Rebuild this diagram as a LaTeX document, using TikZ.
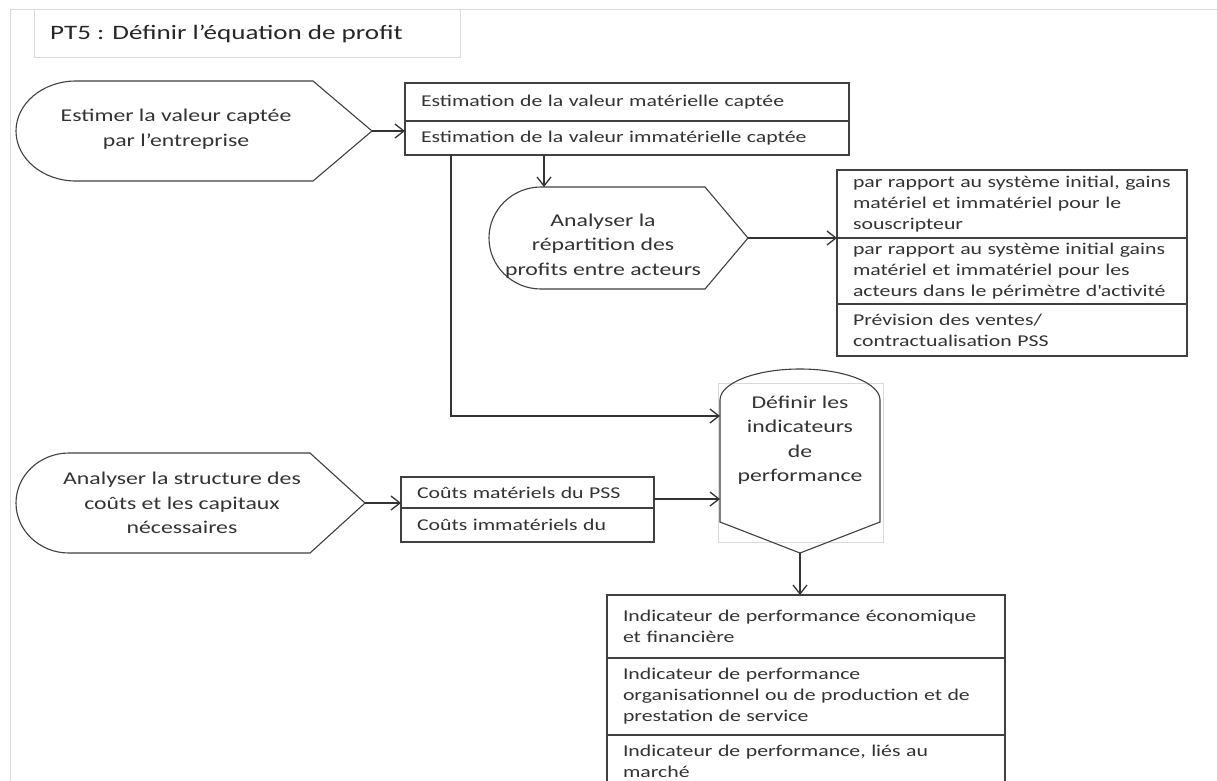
\documentclass[tikz,border=0pt]{standalone}
\usepackage{fontspec}
\setmainfont{Carlito}[FakeStretch=1.32]
\usetikzlibrary{arrows.meta}

\tikzset{
  ligne/.style={draw=black!75, line width=1.1pt},
  fleche/.style={draw=black!80, line width=1.3pt, -{Straight Barb[length=9pt,width=14pt]}},
  cadre/.style={draw=black!15, line width=1pt},
  boite/.style={ligne, rectangle, anchor=north west, outer sep=0pt, inner xsep=16pt, inner ysep=0pt,
    align=left, text=black!80, font=\fontsize{16.5}{21}\selectfont},
  forme/.style={align=center, text=black!80, font=\fontsize{18}{24.5}\selectfont},
}

\begin{document}
\begin{tikzpicture}[x=1pt,y=-1pt]
    \useasboundingbox (0,0) rectangle (1217,780);
    \fill[white] (0,0) rectangle (1217,780);
    \clip (0,0) rectangle (1217,780);

    % Cadre de page et titre
    \draw[cadre] (10,790) -- (10,9) -- (1220,9);
    \draw[cadre] (34,9) -- (34,57) -- (460,57) -- (460,9);
    \node[anchor=base west, inner sep=0pt, text=black!85, font=\fontsize{20.5}{24}\selectfont] (titre) at (50,39) {PT5 : Définir l’équation de profit};

    % Formes (activites)
    \draw[ligne] (76,81) -- (313,81) -- (372,131) -- (313,181) -- (76,181) arc[start angle=270, end angle=90, x radius=60pt, y radius=50pt] -- cycle;
    \draw[ligne] (541,187) -- (705,187) -- (748,238) -- (705,289) -- (541,289) arc[start angle=270, end angle=90, x radius=52pt, y radius=51pt] -- cycle;
    \draw[ligne] (69,453) -- (310,453) -- (365,503) -- (310,553) -- (69,553) arc[start angle=270, end angle=90, x radius=53pt, y radius=50pt] -- cycle;
    \draw[cadre] (718,383) rectangle (883,542);
    \draw[ligne] (720,522) -- (720,400) arc[start angle=180, end angle=0, x radius=80pt, y radius=31pt] -- (880,522) -- (800,553) -- cycle;

    \node[forme] (estimer) at (176,129) {Estimer la valeur captée\\par l’entreprise};
    \node[forme] (repartition) at (603,246) {Analyser la\\répartition des\\profits entre acteurs};
    \node[forme] (definir) at (800,440) {Définir les\\indicateurs\\de\\performance};
    \node[forme] (structure) at (182,503) {Analyser la structure des\\coûts et les capitaux\\nécessaires};

    \coordinate (estimer-pt) at (372,131);
    \coordinate (rep-haut) at (544,187);
    \coordinate (rep-pt) at (748,238);
    \coordinate (def-in1) at (720,416);
    \coordinate (def-in2) at (720,499);
    \coordinate (def-pt) at (800,553);
    \coordinate (struc-pt) at (365,503);

    % Boites (resultats)
    \node[boite, text width=412pt, minimum height=38pt] (est-mat) at (405,83) {Estimation de la valeur matérielle captée};
    \node[boite, text width=412pt, minimum height=34pt] (est-immat) at (405,121) {Estimation de la valeur immatérielle captée};

    \node[boite, text width=318pt, minimum height=68pt] (rep-sous) at (837,170) {par rapport au système initial, gains\\matériel et immatériel pour le\\souscripteur};
    \node[boite, text width=318pt, minimum height=66pt] (rep-acteurs) at (837,238) {par rapport au système initial gains\\matériel et immatériel pour les\\acteurs dans le périmètre d\textquotesingle activité};
    \node[boite, text width=318pt, minimum height=52pt] (rep-ventes) at (837,304) {Prévision des ventes/\\contractualisation PSS};

    \node[boite, text width=221pt, minimum height=31pt] (cout-mat) at (401,477) {Coûts matériels du PSS};
    \node[boite, text width=221pt, minimum height=34pt] (cout-immat) at (401,508) {Coûts immatériels du};

    \node[boite, text width=366pt, minimum height=63pt] (ind-eco) at (607,595) {Indicateur de performance économique\\et financière};
    \node[boite, text width=366pt, minimum height=77pt] (ind-org) at (607,658) {Indicateur de performance\\organisationnel ou de production et de\\prestation de service};
    \node[boite, text width=366pt, minimum height=52pt] (ind-marche) at (607,735) {Indicateur de performance, liés au\\marché};

    % Fleches
    \draw[fleche] (estimer-pt) -- (estimer-pt -| est-immat.west);
    \draw[fleche] (est-immat.south -| rep-haut) -- (rep-haut);
    \draw[fleche] ([xshift=46pt]est-immat.south west) |- (def-in1);
    \draw[fleche] (rep-pt) -- (rep-pt -| rep-sous.west);
    \draw[fleche] (struc-pt) -- (struc-pt -| cout-mat.west);
    \draw[fleche] (def-in2 -| cout-mat.east) -- (def-in2);
    \draw[fleche] (def-pt) -- (ind-eco.north -| def-pt);

\end{tikzpicture}
\end{document}
